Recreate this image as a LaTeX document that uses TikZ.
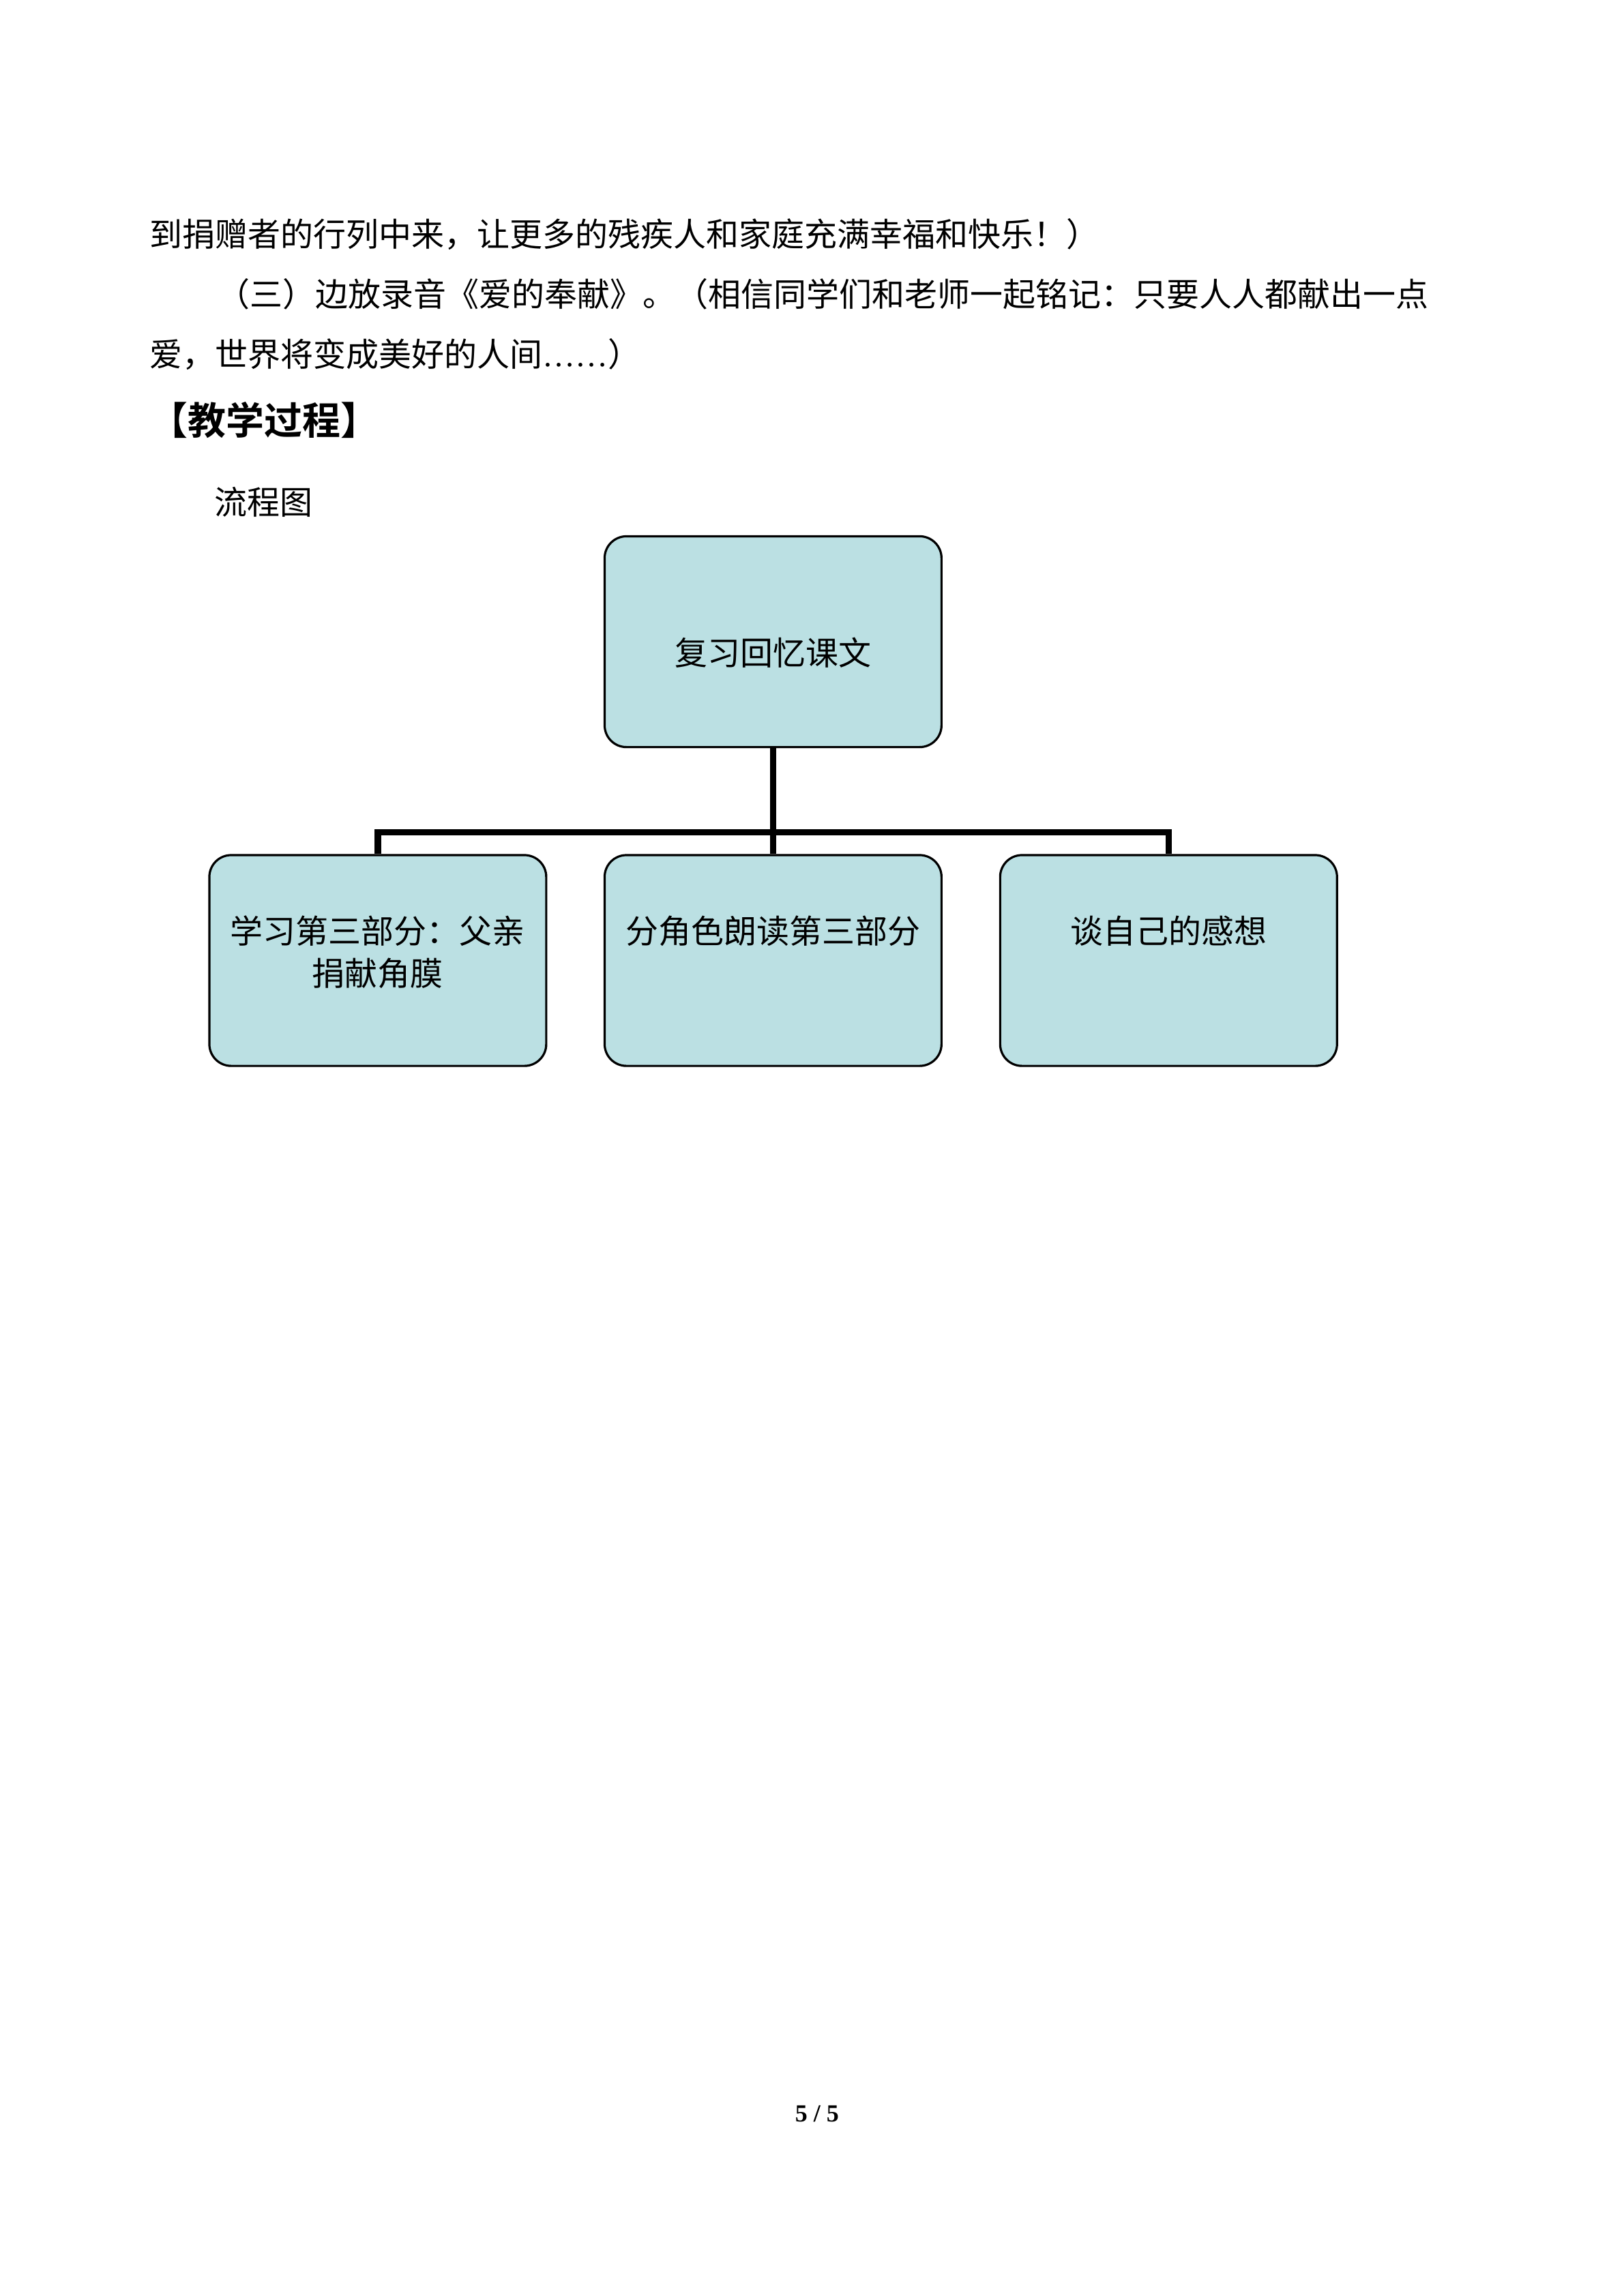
\documentclass[tikz,border=0pt]{standalone}
\usepackage{fontspec}
\setmainfont{Liberation Serif}
\newfontfamily\cjk[BoldFont=Noto Sans CJK SC Bold]{Noto Sans CJK SC}
\definecolor{boxfill}{RGB}{187,224,227}

\begin{document}
\begin{tikzpicture}[x=1pt,y=-1pt,
    para/.style={anchor=west,inner sep=0pt,font={\cjk\fontsize{12}{15.5}\selectfont}},
    stage/.style={draw=black,line width=0.8pt,fill=boxfill,rounded corners=8pt,minimum width=123.5pt,minimum height=77.3pt,inner sep=0pt},
    stagetext/.style={inner sep=0pt,align=center,font={\cjk\fontsize{12}{15.5}\selectfont}},
    link/.style={line width=2.4pt}]
    \useasboundingbox (0,0) rectangle (595.3,841.9);

    % text above the chart
    \node[para] (line1) at (54.8,85.9) {到捐赠者的行列中来，让更多的残疾人和家庭充满幸福和快乐！）};
    \node[para] (line2) at (79.4,107.9) {（三）边放录音《爱的奉献》。（相信同学们和老师一起铭记：只要人人都献出一点};
    \node[para] (line3) at (54.8,129.9) {爱，世界将变成美好的人间{\rmfamily\fontsize{12}{15.5}\selectfont ……}）};
    \node[para,font={\cjk\bfseries\fontsize{14}{17}\selectfont}] (heading) at (54.8,154.1) {【教学过程】};
    \node[para] (chartname) at (78.4,184.1) {流程图};

    % boxes
    \node[stage] (review) at (283.4,235.3) {};
    \node[stagetext] at (283.4,239.4) {复习回忆课文};
    \node[stage] (part1) at (138.5,352.2) {};
    \node[stage] (part2) at (283.4,352.2) {};
    \node[stage] (part3) at (428.4,352.2) {};
    \node[stagetext,anchor=north] (text1) at (138.5,335.5) {学习第三部分：父亲\\捐献角膜};
    \node[stagetext,anchor=north] (text2) at (283.4,335.5) {分角色朗读第三部分};
    \node[stagetext,anchor=north] (text3) at (428.4,335.5) {谈自己的感想};

    % connectors
    \coordinate (bar) at (283.4,305.2);
    \draw[link] (review.south) -- (bar);
    \draw[link] (part1.north) -- (part1.north |- bar) -- (part3.north |- bar) -- (part3.north);
    \draw[link] (bar) -- (part2.north);

    \node[inner sep=0pt,font={\bfseries\fontsize{9}{11}\selectfont}] (pagenum) at (299.5,775.2) {5 / 5};
\end{tikzpicture}
\end{document}
